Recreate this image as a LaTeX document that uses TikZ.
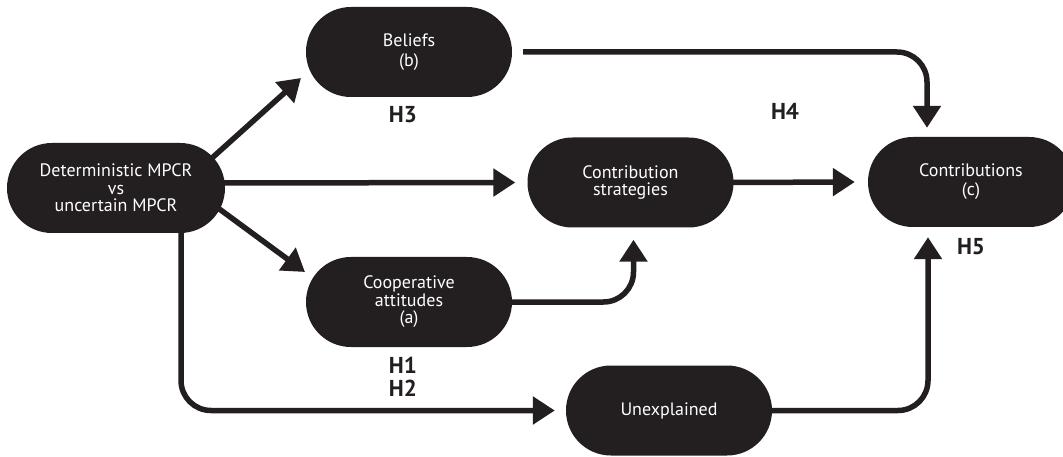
\documentclass[tikz,border=0pt]{standalone}
\usepackage{fontspec}
\setmainfont{PT Sans}
\usetikzlibrary{arrows.meta,calc}
\definecolor{ink}{HTML}{231F20}
\tikzset{
  pill/.style={fill=ink, draw=none, rounded corners=44.9pt, minimum width=206pt, minimum height=90pt,
    inner sep=0pt, align=center, text=white, font=\fontsize{18}{17.5}\selectfont},
  hyp/.style={text=ink, font=\bfseries\fontsize{23}{24}\selectfont, inner sep=0pt},
  arr/.style={draw=ink, line width=5.5pt, -{Triangle[length=22pt,width=27pt]}, rounded corners=30pt}
}
\begin{document}
\begin{tikzpicture}[x=1pt,y=-1pt]
\clip (0,0) rectangle (1063,457);
\fill[white] (0,0) rectangle (1063,457);
\node[pill, minimum width=218pt] (det) at (116,188) {Deterministic MPCR\\vs\\uncertain MPCR};
\node[pill, font=\fontsize{18}{20}\selectfont] (beliefs) at (409,52) {Beliefs\\(b)};
\node[pill] (cs) at (630.5,182.5) {Contribution\\strategies};
\node[pill] (coop) at (409,302) {Cooperative\\attitudes\\(a)};
\node[pill] (unexp) at (669,410.5) {Unexplained};
\node[pill, font=\fontsize{18}{19}\selectfont] (contrib) at (971,182) {Contributions\\(c)};
\node[hyp] (h3) at (403,115) {H3};
\node[hyp] (h4) at (785,111) {H4};
\node[hyp] (h5) at (971,247) {H5};
\node[hyp] (h1) at (403,365) {H1};
\node[hyp] (h2) at (403,388) {H2};
\draw[arr] ($(det.center)+(96,-30)$) -- ($(beliefs.center)+(-108,26)$);
\draw[arr] ($(det.east)+(-2,-5)$) -- ($(cs.west)+(-12,0)$);
\draw[arr] ($(det.center)+(102,20)$) -- ($(coop.center)+(-104,-30)$);
\draw[arr] ($(det.south)+(65,-2)$) |- ($(unexp.west)+(-11,0)$);
\draw[arr] ($(beliefs.east)+(11,0)$) -| ($(contrib.north)+(-44,-9)$);
\draw[arr] ($(cs.east)+(-2,0)$) -- ($(contrib.west)+(-13,0)$);
\draw[arr] ($(coop.east)+(-2,0)$) -| ($(cs.south)+(3,12)$);
\draw[arr] ($(unexp.east)+(-2,0)$) -| ($(contrib.south)+(-43,10)$);
\end{tikzpicture}
\end{document}
